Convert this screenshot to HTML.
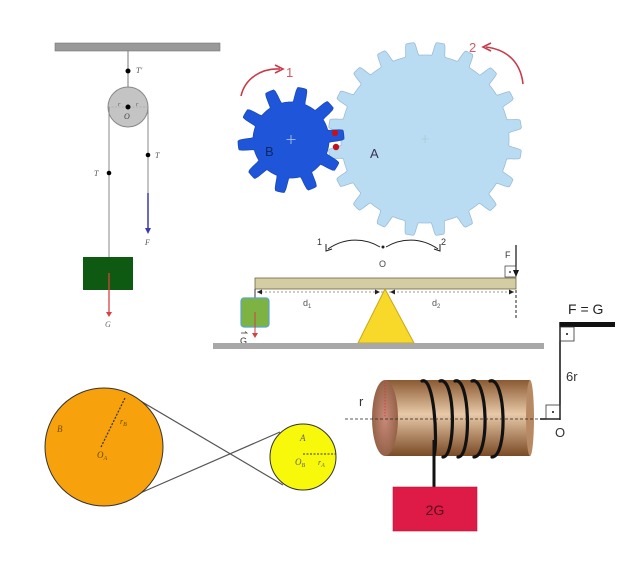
<!DOCTYPE html>
<html><head><meta charset="utf-8"><style>
html,body{margin:0;padding:0;background:#fff;}
svg{display:block;font-family:"Liberation Sans",sans-serif;}
.it{font-family:"Liberation Serif",serif;font-style:italic;}
</style></head><body>
<svg id="s" width="633" height="566" viewBox="0 0 633 566" xmlns="http://www.w3.org/2000/svg">
<defs>
<linearGradient id="wood" x1="0" y1="0" x2="0" y2="1">
<stop offset="0" stop-color="#8a5a32"/><stop offset="0.45" stop-color="#e8c9a8"/><stop offset="1" stop-color="#7a4a26"/>
</linearGradient>
<radialGradient id="face" cx="0.5" cy="0.5" r="0.6">
<stop offset="0" stop-color="#c98a7a"/><stop offset="1" stop-color="#8a5a3e"/>
</radialGradient>
</defs>
<!-- pulley -->
<rect x="55" y="43" width="165" height="8" fill="#999" stroke="#777" stroke-width="0.6"/>
<line x1="128" y1="51" x2="128" y2="106" stroke="#777" stroke-width="1"/>
<circle cx="128" cy="71" r="2.5" fill="#000"/>
<text x="136" y="73" class="it" font-size="8" fill="#555">T'</text>
<circle cx="128" cy="107" r="20" fill="#c4c4c4" stroke="#888"/>
<line x1="108" y1="107" x2="148" y2="107" stroke="#999" stroke-dasharray="2,1.5" stroke-width="0.6"/>
<circle cx="128" cy="107" r="2.5" fill="#000"/>
<text x="124" y="119" class="it" font-size="8" fill="#444">O</text>
<text x="118" y="106" class="it" font-size="6" fill="#555">r</text><text x="136" y="106" class="it" font-size="6" fill="#555">r</text>
<line x1="109" y1="107" x2="109" y2="258" stroke="#888"/>
<line x1="148" y1="107" x2="148" y2="195" stroke="#888"/>
<circle cx="109" cy="173" r="2.3" fill="#000"/><text x="94" y="176" class="it" font-size="8" fill="#555">T</text>
<circle cx="148" cy="155" r="2.3" fill="#000"/><text x="155" y="158" class="it" font-size="8" fill="#555">T</text>
<line x1="148" y1="193" x2="148" y2="229" stroke="#3b3bb0" stroke-width="1.5"/>
<path d="M145,228 L148,234 L151,228Z" fill="#3b3bb0"/>
<text x="145" y="245" class="it" font-size="8" fill="#555">F</text>
<rect x="83" y="257" width="50" height="33" fill="#0f5a12"/>
<line x1="109" y1="273" x2="109" y2="313" stroke="#d94040" stroke-width="1.3"/>
<path d="M106,312 L109,317 L112,312Z" fill="#d94040"/>
<text x="105" y="327" class="it" font-size="8" fill="#666">G</text>
<!-- gears -->
<g id="gears"></g>
<text x="265" y="156" font-size="13" fill="#0b2a66">B</text>
<text x="370" y="158" font-size="13" fill="#335">A</text>
<path d="M291,135 v9 M286.5,139.5 h9" stroke="#9bb7ee" stroke-width="1"/>
<path d="M425,135 v8 M421,139 h8" stroke="#9cc" stroke-width="0.6"/>
<circle cx="335" cy="133" r="3.2" fill="#c0141c"/>
<circle cx="336" cy="147" r="3.2" fill="#c0141c"/>
<path d="M241,96 C245,78 262,68 280,69" fill="none" stroke="#c83a4a" stroke-width="1.6"/>
<path d="M275,65 L283,69 L275,73" fill="none" stroke="#c83a4a" stroke-width="1.6"/>
<text x="286" y="77" font-size="13" fill="#d05a66">1</text>
<path d="M523,84 C521,65 510,50 486,47" fill="none" stroke="#c83a4a" stroke-width="1.6"/>
<path d="M491,43 L483,47 L491,51" fill="none" stroke="#c83a4a" stroke-width="1.6"/>
<text x="469" y="52" font-size="13" fill="#d05a66">2</text>
<!-- lever -->
<path d="M380,247 C365,238 345,237 328,249" fill="none" stroke="#222" stroke-width="1"/>
<path d="M326,244 L326,251 L332,249" fill="none" stroke="#222" stroke-width="1"/>
<path d="M386,247 C401,238 421,237 438,249" fill="none" stroke="#222" stroke-width="1"/>
<path d="M440,244 L440,251 L434,249" fill="none" stroke="#222" stroke-width="1"/>
<circle cx="383" cy="247" r="1.5" fill="#222"/>
<text x="317" y="245" font-size="9" fill="#333">1</text>
<text x="441" y="245" font-size="9" fill="#333">2</text>
<text x="379" y="267" font-size="9" fill="#444">O</text>
<rect x="255" y="278" width="261" height="11" fill="#d4cda4" stroke="#6b6440" stroke-width="0.8"/>
<line x1="516" y1="245" x2="516" y2="276" stroke="#111" stroke-width="1.2"/>
<path d="M513,270 L516,277 L519,270Z" fill="#111"/>
<rect x="505" y="266" width="11" height="11" fill="none" stroke="#333" stroke-width="0.7"/>
<circle cx="510" cy="272" r="0.9" fill="#111"/>
<text x="505" y="258" font-size="9" fill="#333">F</text>
<line x1="516" y1="290" x2="516" y2="318" stroke="#222" stroke-dasharray="3,2"/>
<line x1="257" y1="292" x2="514" y2="292" stroke="#777" stroke-dasharray="2,2" stroke-width="0.8"/>
<path d="M257,292 l5,-2.5 v5z M380,292 l-5,-2.5 v5z M390,292 l5,-2.5 v5z M514,292 l-5,-2.5 v5z" fill="#222"/>
<line x1="255" y1="289" x2="255" y2="298" stroke="#333"/>
<text x="303" y="306" font-size="9" fill="#555">d<tspan font-size="6" dy="2">1</tspan></text>
<text x="432" y="306" font-size="9" fill="#555">d<tspan font-size="6" dy="2">2</tspan></text>
<rect x="241" y="298" width="28" height="29" rx="3" fill="#7cb342" stroke="#5ba5c8" stroke-width="1.2"/>
<line x1="255" y1="312" x2="255" y2="335" stroke="#c44" stroke-width="1"/>
<path d="M252,333 L255,338 L258,333Z" fill="#c44"/>
<text x="240" y="344" font-size="9" fill="#333">G</text>
<path d="M241,333 h6 l-2,-1.5" stroke="#333" fill="none" stroke-width="0.7"/>
<polygon points="385,289 358,343 414,343" fill="#f8d92a" stroke="#c8a818" stroke-width="1"/>
<rect x="213" y="343" width="331" height="6" fill="#a8a8a8"/>
<!-- belt -->
<line x1="127" y1="393" x2="283" y2="485" stroke="#555" stroke-width="1.2"/>
<line x1="138" y1="494" x2="280" y2="432" stroke="#555" stroke-width="1.2"/>
<circle cx="104" cy="447" r="59" fill="#f7a10c" stroke="#333" stroke-width="1"/>
<circle cx="303" cy="457" r="33" fill="#f8f80a" stroke="#333" stroke-width="1"/>
<line x1="101" y1="447" x2="125" y2="398" stroke="#333" stroke-dasharray="2,1.5" stroke-width="1.2"/>
<text x="57" y="432" class="it" font-size="9" fill="#7a4b00">B</text>
<text x="120" y="424" class="it" font-size="8" fill="#6a4a00">r<tspan font-size="6" dy="2">B</tspan></text>
<text x="97" y="458" class="it" font-size="9" fill="#6a4a00">O<tspan font-size="6" dy="2">A</tspan></text>
<line x1="303" y1="454" x2="336" y2="454" stroke="#333" stroke-dasharray="2,1.5" stroke-width="1"/>
<text x="300" y="441" class="it" font-size="9" fill="#666">A</text>
<text x="295" y="465" class="it" font-size="9" fill="#666">O<tspan font-size="6" dy="2">B</tspan></text>
<text x="318" y="465" class="it" font-size="8" fill="#666">r<tspan font-size="6" dy="2">A</tspan></text>
<!-- spool -->
<rect x="385" y="380" width="145" height="76" fill="url(#wood)"/>
<ellipse cx="530" cy="418" rx="4" ry="38" fill="#b88a64"/>
<ellipse cx="385" cy="418" rx="13" ry="38" fill="url(#face)"/>
<line x1="385" y1="382" x2="385" y2="418" stroke="#d33" stroke-dasharray="1.5,1.5" stroke-width="0.8"/>
<g fill="none" stroke="#111" stroke-width="3.2" stroke-linecap="round">
<path d="M422,381 C434,376 438,440 434,456"/>
<path d="M440,381 C456,376 456,457 443,457"/>
<path d="M455,381 C470,376 472,457 458,457"/>
<path d="M472,381 C488,376 490,457 474,457"/>
<path d="M490,381 C506,376 508,457 492,457"/>
</g>
<line x1="434" y1="440" x2="434" y2="487" stroke="#111" stroke-width="3"/>
<line x1="345" y1="419" x2="556" y2="419" stroke="#222" stroke-dasharray="3,2" stroke-width="0.8"/>
<line x1="540" y1="419" x2="560" y2="419" stroke="#111" stroke-width="1.5"/>
<line x1="560" y1="322" x2="560" y2="420" stroke="#111" stroke-width="1.5"/>
<rect x="560" y="322" width="55" height="5" fill="#111"/>
<rect x="560" y="327" width="14" height="14" fill="none" stroke="#333" stroke-width="0.8"/>
<circle cx="567" cy="334" r="1" fill="#111"/>
<rect x="546" y="405" width="14" height="14" fill="none" stroke="#333" stroke-width="0.8"/>
<circle cx="553" cy="412" r="1" fill="#111"/>
<text x="568" y="314" font-size="14" fill="#222">F = G</text>
<text x="566" y="381" font-size="13" fill="#333">6r</text>
<text x="555" y="437" font-size="13" fill="#333">O</text>
<text x="359" y="406" font-size="13" fill="#333">r</text>
<rect x="393" y="487" width="84" height="44" fill="#de1a46" stroke="#b01a3a" stroke-width="0.6"/>
<text x="435" y="515" font-size="14" fill="#5a0a1a" text-anchor="middle">2G</text>
</svg>
<script>
function gear(cx,cy,N,ro,rr,ph){
 var d="",M=N*30;
 for(var i=0;i<=M;i++){
  var t=i/M*2*Math.PI;
  var c=Math.cos(N*(t-ph));
  var f=Math.max(0,Math.min(1,(c+0.05)/0.75));
  f=f*f*(3-2*f);
  var r=rr+(ro-rr)*f;
  d+=(i?"L":"M")+(cx+r*Math.cos(t)).toFixed(2)+","+(cy+r*Math.sin(t)).toFixed(2);
 }
 return d+"Z";
}
var g=document.getElementById("gears");
g.innerHTML='<path d="'+gear(425,139,20,97,84,0.16)+'" fill="#b9dcf3" stroke="#9cbcd6" stroke-width="0.8"/>'+
'<path d="'+gear(291,140,10,53,38,-0.1)+'" fill="#1f56d9" stroke="#1a48b8" stroke-width="0.8"/>';
</script>
</body></html>
